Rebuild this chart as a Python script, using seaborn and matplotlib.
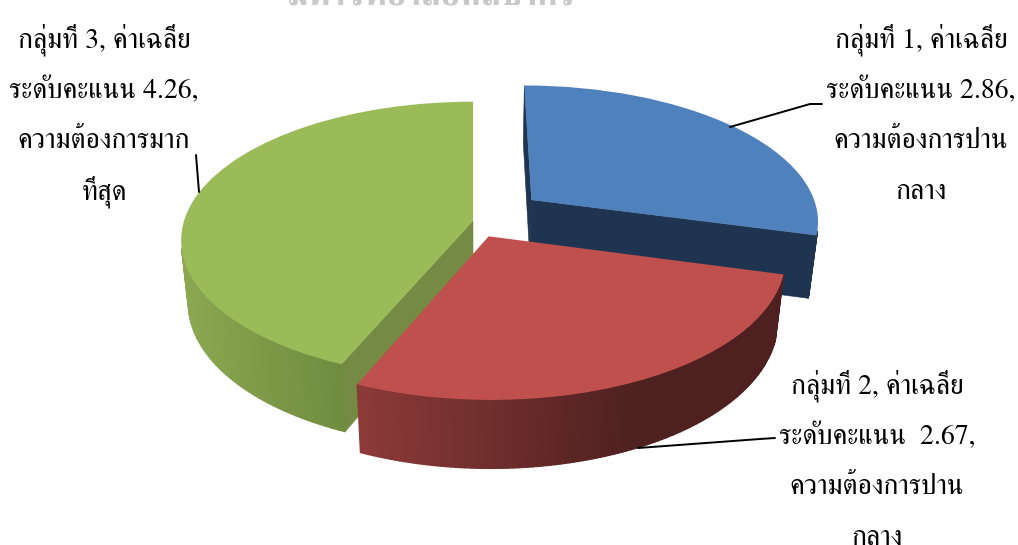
import numpy as np
import matplotlib
matplotlib.use("Agg")
import matplotlib.pyplot as plt
import matplotlib.transforms as mtransforms
from matplotlib.patches import Rectangle
import seaborn as sns

groups = ["กลุ่มที่ 1", "กลุ่มที่ 2", "กลุ่มที่ 3"]
scores = [2.86, 2.67, 4.26]
explode = [0.26, 0.123, 0.0]
top_colors = ["#4F81BD", "#C0504D", "#9BBB59"]
cut_colors = ["#1F3450", "#4E2020", "#758A42"]
rim_colors = [("#1F3450", "#1F3450"), ("#8C3A38", "#4E2020"), ("#8BA750", "#6F8B3F")]
rim_ranges = [(500, 820), (358, 640), (185, 345)]

label_1 = ["กลุ่มที่ 1, ค่าเฉลี่ย", "ระดับคะแนน 2.86,", "ความต้องการปาน", "กลาง"]
label_2 = ["กลุ่มที่ 2, ค่าเฉลี่ย", "ระดับคะแนน  2.67,", "ความต้องการปาน", "กลาง"]
label_3 = ["กลุ่มที่ 3, ค่าเฉลี่ย", "ระดับคะแนน 4.26,", "ความต้องการมาก", "ที่สุด"]

# picture of the pie plane: origin, radius, squash, perspective, thickness
X0, Y0, RX, RY = 473, 221, 289, 136
P_Y, P_Z, DEPTH = 0.14, 0.025, 64


def project(x, y, z=0.0):
    s = 1 / (1 + P_Y * y + P_Z * z)
    return X0 + RX * x * s, Y0 + (-RY * y + DEPTH * z) * s


class PieTilt(mtransforms.Transform):
    input_dims = 2
    output_dims = 2

    def transform_non_affine(self, values):
        px, py = project(values[:, 0], values[:, 1])
        return np.column_stack([px, py])


def draw_quad(ax, a, b, color, zorder, lw=0.4):
    # a and b are ends of a top edge, the quad hangs down to z=1
    xs0, ys0 = project(*a, 0.0)
    xs1, ys1 = project(*b, 0.0)
    xs2, ys2 = project(*b, 1.0)
    xs3, ys3 = project(*a, 1.0)
    xs = [xs0, xs1, xs2, xs3]
    ys = [ys0, ys1, ys2, ys3]
    area = sum(xs[i] * ys[(i + 1) % 4] - xs[(i + 1) % 4] * ys[i] for i in range(4))
    if area <= 0:
        return
    ax.fill(xs, ys, color=color, lw=lw, zorder=zorder)


sns.set_theme(style="white")
plt.rcParams["font.family"] = ["FreeSerif", "DejaVu Sans"]

fig, ax = plt.subplots(figsize=(10.18, 5.45), dpi=100)
fig.subplots_adjust(0, 0, 1, 1)

wedges, _ = ax.pie(
    scores,
    explode=explode,
    colors=top_colors,
    startangle=90,
    counterclock=False,
    wedgeprops={"linewidth": 0},
)
ax.set_aspect("auto")
ax.set_xlim(0, 1018)
ax.set_ylim(545, 0)
ax.axis("off")

tilt = PieTilt() + ax.transData
# red sits in front of the other two
slice_z = [1, 3, 2]
for i, w in enumerate(wedges):
    cx, cy = w.center
    t1, t2 = np.deg2rad(w.theta1), np.deg2rad(w.theta2)
    zo = slice_z[i] * 10

    # cut faces, each one drawn only if it looks towards the viewer
    rim1 = (cx + np.cos(t1), cy + np.sin(t1))
    rim2 = (cx + np.cos(t2), cy + np.sin(t2))
    draw_quad(ax, (cx, cy), rim1, cut_colors[i], zo)
    draw_quad(ax, rim2, (cx, cy), cut_colors[i], zo)

    # outer wall, shaded by where it falls across the picture
    shades = sns.blend_palette(rim_colors[i], 64)
    left, right = rim_ranges[i]
    angles = np.linspace(t1, t2, 120)
    for a0, a1 in zip(angles[:-1], angles[1:]):
        xm, _ = project(cx + np.cos((a0 + a1) / 2), cy + np.sin((a0 + a1) / 2))
        k = int(np.clip((xm - left) / (right - left), 0, 1) * 63)
        draw_quad(
            ax,
            (cx + np.cos(a0), cy + np.sin(a0)),
            (cx + np.cos(a1), cy + np.sin(a1)),
            shades[k],
            zo + 1,
            lw=1.0,
        )

    w.set_transform(tilt)
    w.set_zorder(zo + 2)

# leader lines
ax.plot([822, 810, 730], [104, 104, 127], color="black", lw=1.4, zorder=40)
ax.plot([775, 760, 638], [438, 439, 448], color="black", lw=1.4, zorder=40)
ax.plot([196, 199], [155, 192], color="black", lw=1.4, zorder=40)

for lines, xc, bases in (
    (label_1, 921, [48, 98, 148, 199]),
    (label_2, 877, [393, 444, 494, 545]),
    (label_3, 104, [48, 98, 148, 199]),
):
    for line, yb in zip(lines, bases):
        ax.text(xc, yb, line, ha="center", va="baseline", fontsize=20,
                color="black", zorder=50, clip_on=False)

# watermark, only its lower edge is left on the page
mark = ax.text(432, 5, "มหาวิทยาลัยศิลปากร", ha="center", va="baseline", fontsize=25,
               fontweight="bold", color="#C8C8C8", zorder=0)
mark.set_clip_path(Rectangle((0, 0), 1018, 8, transform=ax.transData))

fig.savefig("out.png", dpi=100)
